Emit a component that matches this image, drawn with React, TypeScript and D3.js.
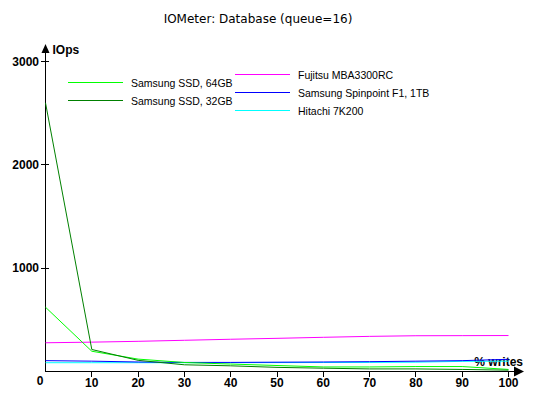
import { useEffect, useRef } from 'react';
import * as d3 from 'd3';

const W = 540;
const H = 400;

const TITLE = 'IOMeter: Database (queue=16)';
const writesPct = [0, 10, 20, 30, 40, 50, 60, 70, 80, 90, 100];
const yTicks = [0, 1000, 2000, 3000];
const xTicks = [10, 20, 30, 40, 50, 60, 70, 80, 90, 100];

const ssd64 = [622, 196, 120, 87, 72, 58, 44, 44, 48, 48, 20];
const ssd32 = [2600, 213, 108, 65, 55, 40, 32, 25, 25, 20, 13];
const fujitsu = [278, 284, 292, 302, 312, 321, 331, 340, 346, 347, 348];
const spinpoint = [105, 100, 92, 88, 88, 90, 92, 95, 100, 105, 118];
const hitachi = [85, 85, 85, 85, 86, 86, 87, 88, 90, 98, 100];

const series = [
  { name: 'Samsung SSD, 64GB', values: ssd64, color: '#00ff00' },
  { name: 'Samsung SSD, 32GB', values: ssd32, color: '#008000' },
  { name: 'Fujitsu MBA3300RC', values: fujitsu, color: '#ff00ff' },
  { name: 'Samsung Spinpoint F1, 1TB', values: spinpoint, color: '#0000ff' },
  { name: 'Hitachi 7K200', values: hitachi, color: '#00ffff' },
];

const TITLE_FONT = '"DejaVu Sans", sans-serif';
const FONT = '"Liberation Sans", Arial, sans-serif';

export default function App() {
  const svgRef = useRef<SVGSVGElement | null>(null);

  useEffect(() => {
    if (!svgRef.current) return;
    const svg = d3.select(svgRef.current);
    svg.selectAll('*').remove();

    const x = d3.scaleLinear().domain([0, 100]).range([45.5, 508.5]);
    const y = d3.scaleLinear().domain([0, 3000]).range([371.5, 61.5]);

    svg.append('rect').attr('width', W).attr('height', H).attr('fill', '#fff');

    svg
      .append('text')
      .attr('x', 258)
      .attr('y', 23)
      .attr('text-anchor', 'middle')
      .attr('font-family', TITLE_FONT)
      .attr('font-size', 12)
      .attr('fill', '#000')
      .text(TITLE);

    // axes
    const axes = svg.append('g').attr('stroke', '#000').attr('shape-rendering', 'crispEdges');
    axes.append('line').attr('x1', x(0)).attr('x2', x(0)).attr('y1', 48).attr('y2', y(0));
    axes.append('line').attr('x1', x(0)).attr('x2', 516).attr('y1', y(0)).attr('y2', y(0));

    svg
      .append('path')
      .attr('d', `M${x(0)},44 L${x(0) - 4},53 L${x(0) + 4},53 Z`)
      .attr('fill', '#000');
    svg
      .append('path')
      .attr('d', `M524,${y(0)} L514,${y(0) - 5} L514,${y(0) + 5} Z`)
      .attr('fill', '#000');

    axes
      .selectAll('line.yt')
      .data(yTicks.filter((d) => d > 0))
      .enter()
      .append('line')
      .attr('x1', x(0) - 5)
      .attr('x2', x(0) + 3)
      .attr('y1', (d) => y(d))
      .attr('y2', (d) => y(d));

    axes
      .selectAll('line.xt')
      .data(xTicks)
      .enter()
      .append('line')
      .attr('x1', (d) => x(d))
      .attr('x2', (d) => x(d))
      .attr('y1', y(0))
      .attr('y2', y(0) + 5);

    const bold = svg
      .append('g')
      .attr('font-family', FONT)
      .attr('font-size', 12)
      .attr('font-weight', 'bold')
      .attr('fill', '#000');

    bold
      .selectAll('text.yl')
      .data(yTicks.filter((d) => d > 0))
      .enter()
      .append('text')
      .attr('x', 39)
      .attr('y', (d) => y(d) + 4)
      .attr('text-anchor', 'end')
      .text((d) => d);

    bold.append('text').attr('x', 40).attr('y', 385).attr('text-anchor', 'middle').text('0');

    bold
      .selectAll('text.xl')
      .data(xTicks)
      .enter()
      .append('text')
      .attr('x', (d) => x(d))
      .attr('y', 387)
      .attr('text-anchor', 'middle')
      .text((d) => d);

    bold.append('text').attr('x', x(0) + 7).attr('y', 54).text('IOps');
    bold.append('text').attr('x', 523).attr('y', 366).attr('text-anchor', 'end').text('% writes');

    // lines
    const line = d3
      .line<number>()
      .x((_, i) => x(writesPct[i]))
      .y((d) => y(d));

    const order = [4, 3, 2, 0, 1];
    svg
      .append('g')
      .selectAll('path')
      .data(order.map((i) => series[i]))
      .enter()
      .append('path')
      .attr('d', (s) => line(s.values))
      .attr('fill', 'none')
      .attr('stroke', (s) => s.color)
      .attr('stroke-width', 1);

    // legend
    const legendPos = [
      { x: 68, y: 82.5 },
      { x: 68, y: 100.5 },
      { x: 235, y: 74.5 },
      { x: 235, y: 92.5 },
      { x: 235, y: 110.5 },
    ];
    const legend = svg.append('g');
    series.forEach((s, i) => {
      const p = legendPos[i];
      legend
        .append('line')
        .attr('x1', p.x)
        .attr('x2', p.x + 55)
        .attr('y1', p.y)
        .attr('y2', p.y)
        .attr('stroke', s.color)
        .attr('shape-rendering', 'crispEdges');
      legend
        .append('text')
        .attr('x', p.x + 63)
        .attr('y', p.y + 4)
        .attr('font-family', FONT)
        .attr('font-size', 10.5)
        .attr('fill', '#000')
        .text(s.name);
    });
  }, []);

  return (
    <div style={{ position: 'absolute', left: 0, top: 0 }}>
      <svg ref={svgRef} width={W} height={H} viewBox={`0 0 ${W} ${H}`} style={{ display: 'block' }} />
    </div>
  );
}
